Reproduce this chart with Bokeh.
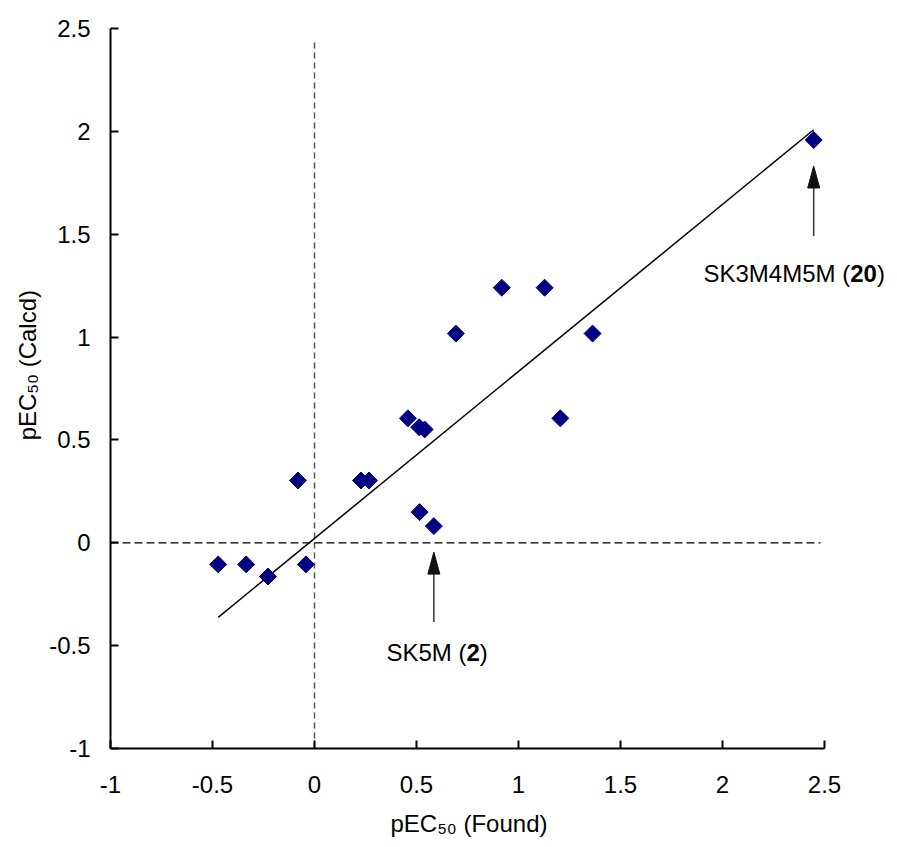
import numpy as np
from bokeh.plotting import figure
from bokeh.models import Range1d, FixedTicker, Label
from bokeh.embed import file_html
from bokeh.resources import INLINE

# ---- data ----
found = [-0.472, -0.335, -0.228, -0.081, -0.042, 0.228, 0.267, 0.458, 0.513,
         0.540, 0.515, 0.585, 0.693, 0.918, 1.128, 1.205, 1.363, 2.447]
calcd = [-0.105, -0.105, -0.164, 0.303, -0.105, 0.303, 0.303, 0.605, 0.562,
         0.551, 0.149, 0.081, 1.017, 1.240, 1.240, 0.605, 1.017, 1.958]
fit_slope = 0.812
fit_intercept = 0.021
tick_values = [-1, -0.5, 0, 0.5, 1, 1.5, 2, 2.5]
tick_labels = ["-1", "-0.5", "0", "0.5", "1", "1.5", "2", "2.5"]
annot_index = [11, 17]
annot_parts = [("SK5M (", "2", ")"), ("SK3M4M5M (", "20", ")")]
x_title = "pEC\u2085\u2080 (Found)"
y_title = "pEC\u2085\u2080 (Calcd)"

# ---- layout ----
W, H = 889, 845
ML, MT, MB = 110, 28, 97
FH = H - MT - MB      # 720
AX_W = 714            # pixel length of the x axis (-1 .. 2.5)
X0, XA, Y0, Y1 = -1.0, 2.5, -1.0, 2.5
PX_X = AX_W / (XA - X0)
PX_Y = FH / (Y1 - Y0)
MR = 2
FW = W - ML - MR
X1 = X0 + FW / PX_X   # frame extends right of the axis end so texts are not clipped
FONT = "Liberation Sans"


def dx(px):  # canvas x -> data x
    return X0 + (px - ML) / PX_X


def dy(py):  # canvas y -> data y
    return Y1 - (py - MT) / PX_Y


ARIAL = {'5': .556, '0': .556, ' ': .278, '(': .333, ')': .333, 'S': .667, 'K': .667,
         'M': .833, '3': .556, '4': .556, '2': .556}


def tw(s, size):
    return sum(ARIAL.get(ch, .556) for ch in s) * size


p = figure(width=W, height=H, x_range=Range1d(X0, X1), y_range=Range1d(Y0, Y1),
           output_backend="svg", toolbar_location=None,
           min_border_left=ML, min_border_top=MT, min_border_right=MR,
           min_border_bottom=MB)
p.outline_line_color = None
p.xgrid.visible = False
p.ygrid.visible = False
p.background_fill_color = "white"
p.border_fill_color = "white"

for ax, standoff in ((p.xaxis[0], 27), (p.yaxis[0], 20)):
    ax.ticker = FixedTicker(ticks=tick_values)
    ax.major_label_overrides = {v: t for v, t in zip(tick_values, tick_labels)}
    ax.bounds = (-1, 2.5)
    ax.axis_line_width = 2
    ax.axis_line_color = "black"
    ax.major_tick_in = 8
    ax.major_tick_out = 0
    ax.major_tick_line_width = 2
    ax.minor_tick_line_color = None
    ax.major_label_text_font = FONT
    ax.major_label_text_font_size = "24px"
    ax.major_label_text_color = "black"
    ax.major_label_standoff = standoff
    ax.axis_label_text_font = FONT
    ax.axis_label_text_font_size = "24px"
    ax.axis_label_text_font_style = "normal"
    ax.axis_label_text_color = "black"

# non-breaking spaces shift the centred titles to where the reference has them
p.xaxis.axis_label = x_title + "\u00a0" * 9
p.xaxis.axis_label_standoff = 14
p.yaxis.axis_label = "\u00a0" * 7 + y_title
p.yaxis.axis_label_standoff = 5

# reference lines at zero
p.line([0, 0], [Y0, dy(40)], line_color="#555555", line_width=1.5, line_dash="6 4")
p.line([X0, dx(820)], [0, 0], line_color="black", line_width=1.3, line_dash="8 4")

# regression line over the data range
fx = np.array([min(found), max(found)])
p.line(fx, fit_slope * fx + fit_intercept, line_color="black", line_width=1.5)

# points
p.scatter(found, calcd, marker="square", angle=np.pi / 4, size=12,
          fill_color="#000080", line_color="#000080")

# arrows + annotation texts
ann_text_pos = [(386, 652), (703, 273)]
for idx, parts, (tx, ty) in zip(annot_index, annot_parts, ann_text_pos):
    ax_ = found[idx]
    ay = calcd[idx]
    tip = ay - 26 / PX_Y
    tail = ay - 96 / PX_Y
    head_len = 22 / PX_Y
    half_w = 6 / PX_X
    p.line([ax_, ax_], [tail, tip - head_len * 0.5], line_color="#333333", line_width=1.5)
    p.patch([ax_, ax_ - half_w, ax_ + half_w], [tip, tip - head_len, tip - head_len],
            fill_color="#111111", line_color="#111111", line_width=1)
    fs = 24
    x_cursor = tx
    for i, s in enumerate(parts):
        p.add_layout(Label(x=dx(x_cursor), y=dy(ty), text=s, text_font=FONT,
                           text_font_size=f"{fs}px",
                           text_font_style="bold" if i == 1 else "normal",
                           text_color="black", text_align="left",
                           text_baseline="alphabetic"))
        x_cursor += tw(s, fs)

open("out.html", "w").write(file_html(p, INLINE))
